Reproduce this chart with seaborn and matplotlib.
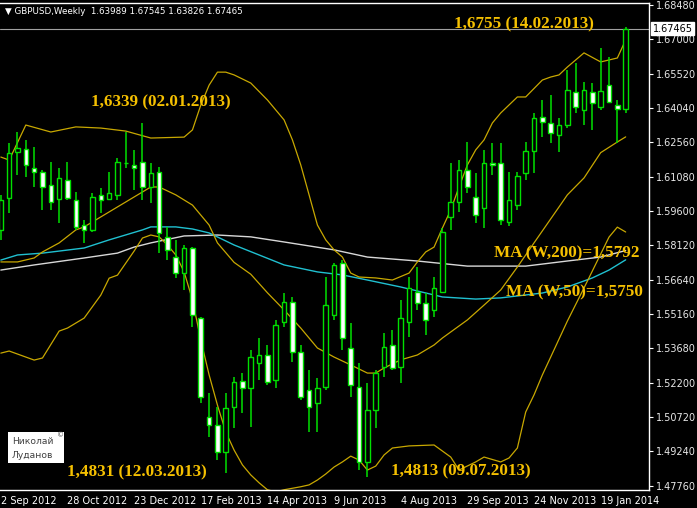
import numpy as np
import pandas as pd
import seaborn as sns
import matplotlib.pyplot as plt
from matplotlib.patches import Rectangle

# weekly GBPUSD candles, bar 0 = week of 2 Sep 2012
opens = [1.5879, 1.6016, 1.6215, 1.6228, 1.6146, 1.6129, 1.6073, 1.6012, 1.6094, 1.6008,
         1.5900, 1.5879, 1.6030, 1.6012, 1.6030, 1.6166, 1.6159, 1.6172, 1.6064, 1.6129,
         1.5849, 1.5762, 1.5693, 1.5801, 1.5499, 1.5073, 1.5038, 1.4922, 1.5116, 1.5228,
         1.5198, 1.5305, 1.5340, 1.5232, 1.5482, 1.5568, 1.5353, 1.5189, 1.5133, 1.5202,
         1.5512, 1.5736, 1.5370, 1.5202, 1.4879, 1.5103, 1.5288, 1.5383, 1.5288, 1.5482,
         1.5611, 1.5564, 1.5534, 1.5611, 1.5935, 1.5999, 1.6137, 1.6021, 1.5973, 1.6167,
         1.6167, 1.5913, 1.5986, 1.6124, 1.6221, 1.6366, 1.6340, 1.6288, 1.6331, 1.6473,
         1.6396, 1.6473, 1.6409, 1.6504, 1.6417, 1.63989]
highs = [1.6030, 1.6254, 1.6301, 1.6267, 1.6236, 1.6137, 1.6172, 1.6146, 1.6172, 1.6042,
         1.5922, 1.6038, 1.6060, 1.6129, 1.6189, 1.6301, 1.6224, 1.6339, 1.6167, 1.6150,
         1.5892, 1.5836, 1.5814, 1.5805, 1.5504, 1.5176, 1.5116, 1.5176, 1.5245, 1.5262,
         1.5362, 1.5413, 1.5383, 1.5491, 1.5607, 1.5590, 1.5383, 1.5275, 1.5241, 1.5676,
         1.5736, 1.5749, 1.5478, 1.5305, 1.5219, 1.5275, 1.5435, 1.5448, 1.5577, 1.5676,
         1.5719, 1.5607, 1.5676, 1.5887, 1.6167, 1.6180, 1.6258, 1.6124, 1.6224, 1.6254,
         1.6254, 1.6129, 1.6129, 1.6258, 1.6383, 1.6439, 1.6460, 1.6361, 1.6568, 1.6598,
         1.6517, 1.6512, 1.6663, 1.6624, 1.6439, 1.67545]
lows = [1.5836, 1.5952, 1.6116, 1.6107, 1.6064, 1.5965, 1.5965, 1.5909, 1.6008, 1.5879,
        1.5823, 1.5870, 1.5952, 1.6008, 1.6008, 1.6146, 1.6051, 1.6008, 1.5995, 1.5780,
        1.5749, 1.5672, 1.5620, 1.5461, 1.5133, 1.4986, 1.4887, 1.4831, 1.5025, 1.5090,
        1.5030, 1.5232, 1.5211, 1.5198, 1.5461, 1.5310, 1.5146, 1.5008, 1.5008, 1.5189,
        1.5491, 1.5362, 1.5159, 1.4844, 1.4813, 1.5025, 1.5245, 1.5275, 1.5219, 1.5418,
        1.5534, 1.5426, 1.5504, 1.5607, 1.5879, 1.5956, 1.6038, 1.5909, 1.5887, 1.6116,
        1.5900, 1.5896, 1.5965, 1.6094, 1.6124, 1.6280, 1.6254, 1.6215, 1.6318, 1.6383,
        1.6331, 1.6310, 1.6396, 1.6426, 1.6254, 1.63826]
closes = [1.6008, 1.6211, 1.6232, 1.6159, 1.6129, 1.6064, 1.6000, 1.6103, 1.6017, 1.5892,
          1.5879, 1.6021, 1.6008, 1.6038, 1.6172, 1.6168, 1.6146, 1.6064, 1.6124, 1.5866,
          1.5792, 1.5693, 1.5801, 1.5512, 1.5159, 1.5038, 1.4922, 1.5111, 1.5224, 1.5198,
          1.5331, 1.5340, 1.5224, 1.5469, 1.5568, 1.5353, 1.5159, 1.5116, 1.5198, 1.5555,
          1.5728, 1.5413, 1.5211, 1.4879, 1.5103, 1.5262, 1.5374, 1.5284, 1.5499, 1.5629,
          1.5564, 1.5491, 1.5629, 1.5870, 1.5999, 1.6137, 1.6064, 1.5943, 1.6167, 1.6159,
          1.5922, 1.6008, 1.6111, 1.6221, 1.6361, 1.6344, 1.6297, 1.6331, 1.6482, 1.6409,
          1.6482, 1.6426, 1.6478, 1.6430, 1.6399, 1.67465]

# Bollinger bands (read at bar indices)
bb_up_idx = [0, 1, 3, 6, 9, 12, 15, 18, 22, 23, 24, 25, 26, 27, 28, 30, 32, 34, 35, 36, 37, 38,
             39, 40, 41, 42, 43, 45, 47, 49, 50, 51, 52, 53, 54, 55, 56, 57, 58, 59, 60, 62, 63,
             65, 66, 67, 68, 70, 72, 74, 75]
bb_up = [1.6193, 1.6180, 1.6331, 1.6301, 1.6323, 1.6318, 1.6305, 1.6275, 1.6279, 1.6310, 1.6417,
         1.6503, 1.6559, 1.6559, 1.6547, 1.6512, 1.6439, 1.6353, 1.6267, 1.6159, 1.6030, 1.5900,
         1.5836, 1.5793, 1.5762, 1.5693, 1.5676, 1.5672, 1.5663, 1.5693, 1.5741, 1.5784, 1.5805,
         1.5887, 1.5965, 1.6064, 1.6159, 1.6224, 1.6267, 1.6340, 1.6383, 1.6452, 1.6452, 1.6525,
         1.6538, 1.6547, 1.6581, 1.6642, 1.6603, 1.6620, 1.6698]
bb_mid_idx = [0, 2, 4, 5, 7, 9, 10, 14, 18, 19, 21, 23, 25, 26, 28, 30, 32, 34, 36, 38, 40, 42,
              44, 45, 46, 48, 50, 52, 53, 56, 58, 60, 62, 64, 67, 68, 70, 72, 74, 75]
bb_mid = [1.5741, 1.5741, 1.5758, 1.5784, 1.5823, 1.5879, 1.5892, 1.5978, 1.6064, 1.6064, 1.6030,
          1.5986, 1.5900, 1.5823, 1.5739, 1.5688, 1.5608, 1.5534, 1.5456, 1.5370, 1.5331, 1.5297,
          1.5262, 1.5262, 1.5284, 1.5319, 1.5340, 1.5383, 1.5413, 1.5491, 1.5555, 1.5620, 1.5719,
          1.5823, 1.5978, 1.6030, 1.6103, 1.6212, 1.6258, 1.6280]
bb_low_idx = [0, 1, 4, 5, 7, 8, 10, 12, 13, 14, 16, 17, 18, 19, 20, 21, 22, 23, 24, 25, 26, 27,
              28, 29, 30, 31, 32, 33, 34, 36, 37, 38, 39, 40, 41, 42, 43, 44, 45, 46, 47, 49, 52,
              54, 55, 57, 58, 60, 61, 62, 63, 64, 65, 66, 68, 70, 72, 73, 74, 75]
bb_low = [1.5348, 1.5357, 1.5318, 1.5327, 1.5443, 1.5456, 1.5499, 1.5598, 1.5671, 1.5684, 1.5788,
          1.5844, 1.5857, 1.5849, 1.5814, 1.5771, 1.5698, 1.5578, 1.5405, 1.5254, 1.5124, 1.5008,
          1.4930, 1.4866, 1.4823, 1.4789, 1.4759, 1.4750, 1.4759, 1.4772, 1.4780, 1.4801, 1.4827,
          1.4857, 1.4879, 1.4904, 1.4887, 1.4844, 1.4861, 1.4909, 1.4939, 1.4948, 1.4952, 1.4900,
          1.4844, 1.4879, 1.4900, 1.4879, 1.4896, 1.4939, 1.5094, 1.5168, 1.5254, 1.5331, 1.5486,
          1.5629, 1.5775, 1.5848, 1.5891, 1.5870]

# moving averages
ma50_idx = [0, 2, 5, 10, 13, 17, 18, 21, 23, 25, 28, 31, 34, 38, 41, 44, 48, 53, 57, 60, 65, 68,
            71, 73, 75]
ma50 = [1.5749, 1.5771, 1.5779, 1.5801, 1.5836, 1.5879, 1.5892, 1.5892, 1.5883, 1.5866, 1.5814,
        1.5771, 1.5728, 1.5698, 1.5685, 1.5663, 1.5633, 1.5590, 1.5581, 1.5586, 1.5607, 1.5633,
        1.5672, 1.5706, 1.5750]
ma200_idx = [0, 4, 10, 14, 16, 18, 22, 26, 30, 34, 40, 44, 50, 56, 63, 68, 72, 75]
ma200 = [1.5706, 1.5728, 1.5758, 1.5779, 1.5805, 1.5823, 1.5853, 1.5857, 1.5849, 1.5827, 1.5793,
         1.5762, 1.5745, 1.5723, 1.5723, 1.5745, 1.5762, 1.5790]

date_ticks = [0, 8, 16, 24, 32, 40, 48, 56, 64, 72]
date_labels = ['2 Sep 2012', '28 Oct 2012', '23 Dec 2012', '17 Feb 2013', '14 Apr 2013',
               '9 Jun 2013', '4 Aug 2013', '29 Sep 2013', '24 Nov 2013', '19 Jan 2014']
price_ticks = [1.47760, 1.49240, 1.50720, 1.52200, 1.53680, 1.55160, 1.56640, 1.58120,
               1.59600, 1.61080, 1.62560, 1.64040, 1.65520, 1.67000, 1.68480]
last_price = 1.67465

sns.set_theme(style="dark", rc={"axes.facecolor": "black", "figure.facecolor": "black",
                                 "axes.edgecolor": "white", "text.color": "white"})
plt.rcParams['font.family'] = ['DejaVu Sans']

df = pd.DataFrame({"bar": np.arange(len(opens)), "open": opens, "high": highs,
                   "low": lows, "close": closes})
df["bull"] = df["close"] >= df["open"]

fig = plt.figure(figsize=(6.97, 5.08), dpi=100)
ax = fig.add_axes([0.0, 18 / 508, 649 / 697, 487 / 508])

green = "#00e000"
gold = "#c8a800"

ax.axhline(last_price, color="#a0a0a0", lw=0.8, zorder=1)

sns.lineplot(x=ma200_idx, y=ma200, ax=ax, color="#d8d8d8", lw=1.0, zorder=2)
sns.lineplot(x=ma50_idx, y=ma50, ax=ax, color="#20c0d0", lw=1.0, zorder=2)
for idx, vals in [(bb_up_idx, bb_up), (bb_mid_idx, bb_mid), (bb_low_idx, bb_low)]:
    sns.lineplot(x=idx, y=vals, ax=ax, color=gold, lw=0.9, zorder=2)

ax.vlines(df["bar"], df["low"], df["high"], color=green, lw=1.1, zorder=3)
body_lo = np.minimum(df["open"], df["close"])
body_h = np.maximum(np.abs(df["close"] - df["open"]), 0.0002)
fills = ["black" if b else "white" for b in df["bull"]]
ax.bar(df["bar"], body_h, bottom=body_lo, width=0.55, color=fills,
       edgecolor=green, linewidth=1.0, zorder=4)

ax.set_xlim(-0.1, 77.8)
ax.set_ylim(1.4758, 1.6857)

ax.set_xticks(date_ticks)
ax.set_xticklabels(date_labels, ha="left", fontsize=7, color="white")
ax.yaxis.tick_right()
ax.set_yticks(price_ticks)
ax.set_yticklabels([f"{p:.5f}" for p in price_ticks], fontsize=7, color="#e8e8e8")
ax.tick_params(axis="both", length=3, width=0.8, color="white", pad=2)
ax.tick_params(axis="x", pad=1)
ax.grid(False)
for side in ["top", "right", "bottom"]:
    ax.spines[side].set_color("white")
    ax.spines[side].set_linewidth(1.0)
ax.spines["left"].set_visible(False)
ax.set_xlabel("")
ax.set_ylabel("")

# current price box
ax.text(1.006, last_price, f"{last_price:.5f}", transform=ax.get_yaxis_transform(),
        fontsize=7, color="black", va="center", ha="left",
        bbox=dict(boxstyle="square,pad=0.15", fc="white", ec="white"))

fig.text(5 / 697, 1 - 12 / 508, "\u25bc GBPUSD,Weekly  1.63989 1.67545 1.63826 1.67465",
         fontsize=6.3, color="white", va="center", ha="left")

note = dict(fontsize=12.3, fontweight="bold", color="#f5c000",
            family=["Liberation Serif", "DejaVu Serif"], va="center", ha="left", zorder=6)
ax.text(54.4, 1.6766, "1,6755 (14.02.2013)", **note)
ax.text(10.8, 1.6430, "1,6339 (02.01.2013)", **note)
ax.text(8.0, 1.4836, "1,4831 (12.03.2013)", **note)
ax.text(46.8, 1.4840, "1,4813 (09.07.2013)", **note)
ax.text(59.2, 1.5779, "MA (W,200)=1,5792", **note)
ax.text(60.6, 1.5611, "MA (W,50)=1,5750", **note)

# signature box
fig.add_artist(Rectangle((8 / 697, 1 - 463 / 508), 56 / 697, 31 / 508,
                         transform=fig.transFigure, fc="white", ec="none", zorder=7))
fig.text(12 / 697, 1 - 442 / 508, "Николай", fontsize=6.6, color="#404040",
         va="center", ha="left", zorder=8)
fig.text(57 / 697, 1 - 435 / 508, "\u00a9", fontsize=5, color="#404040",
         va="center", ha="left", zorder=8)
fig.text(12 / 697, 1 - 455 / 508, "Луданов", fontsize=6.6, color="#404040",
         va="center", ha="left", zorder=8)

fig.savefig("out.png", dpi=100, facecolor="black")
